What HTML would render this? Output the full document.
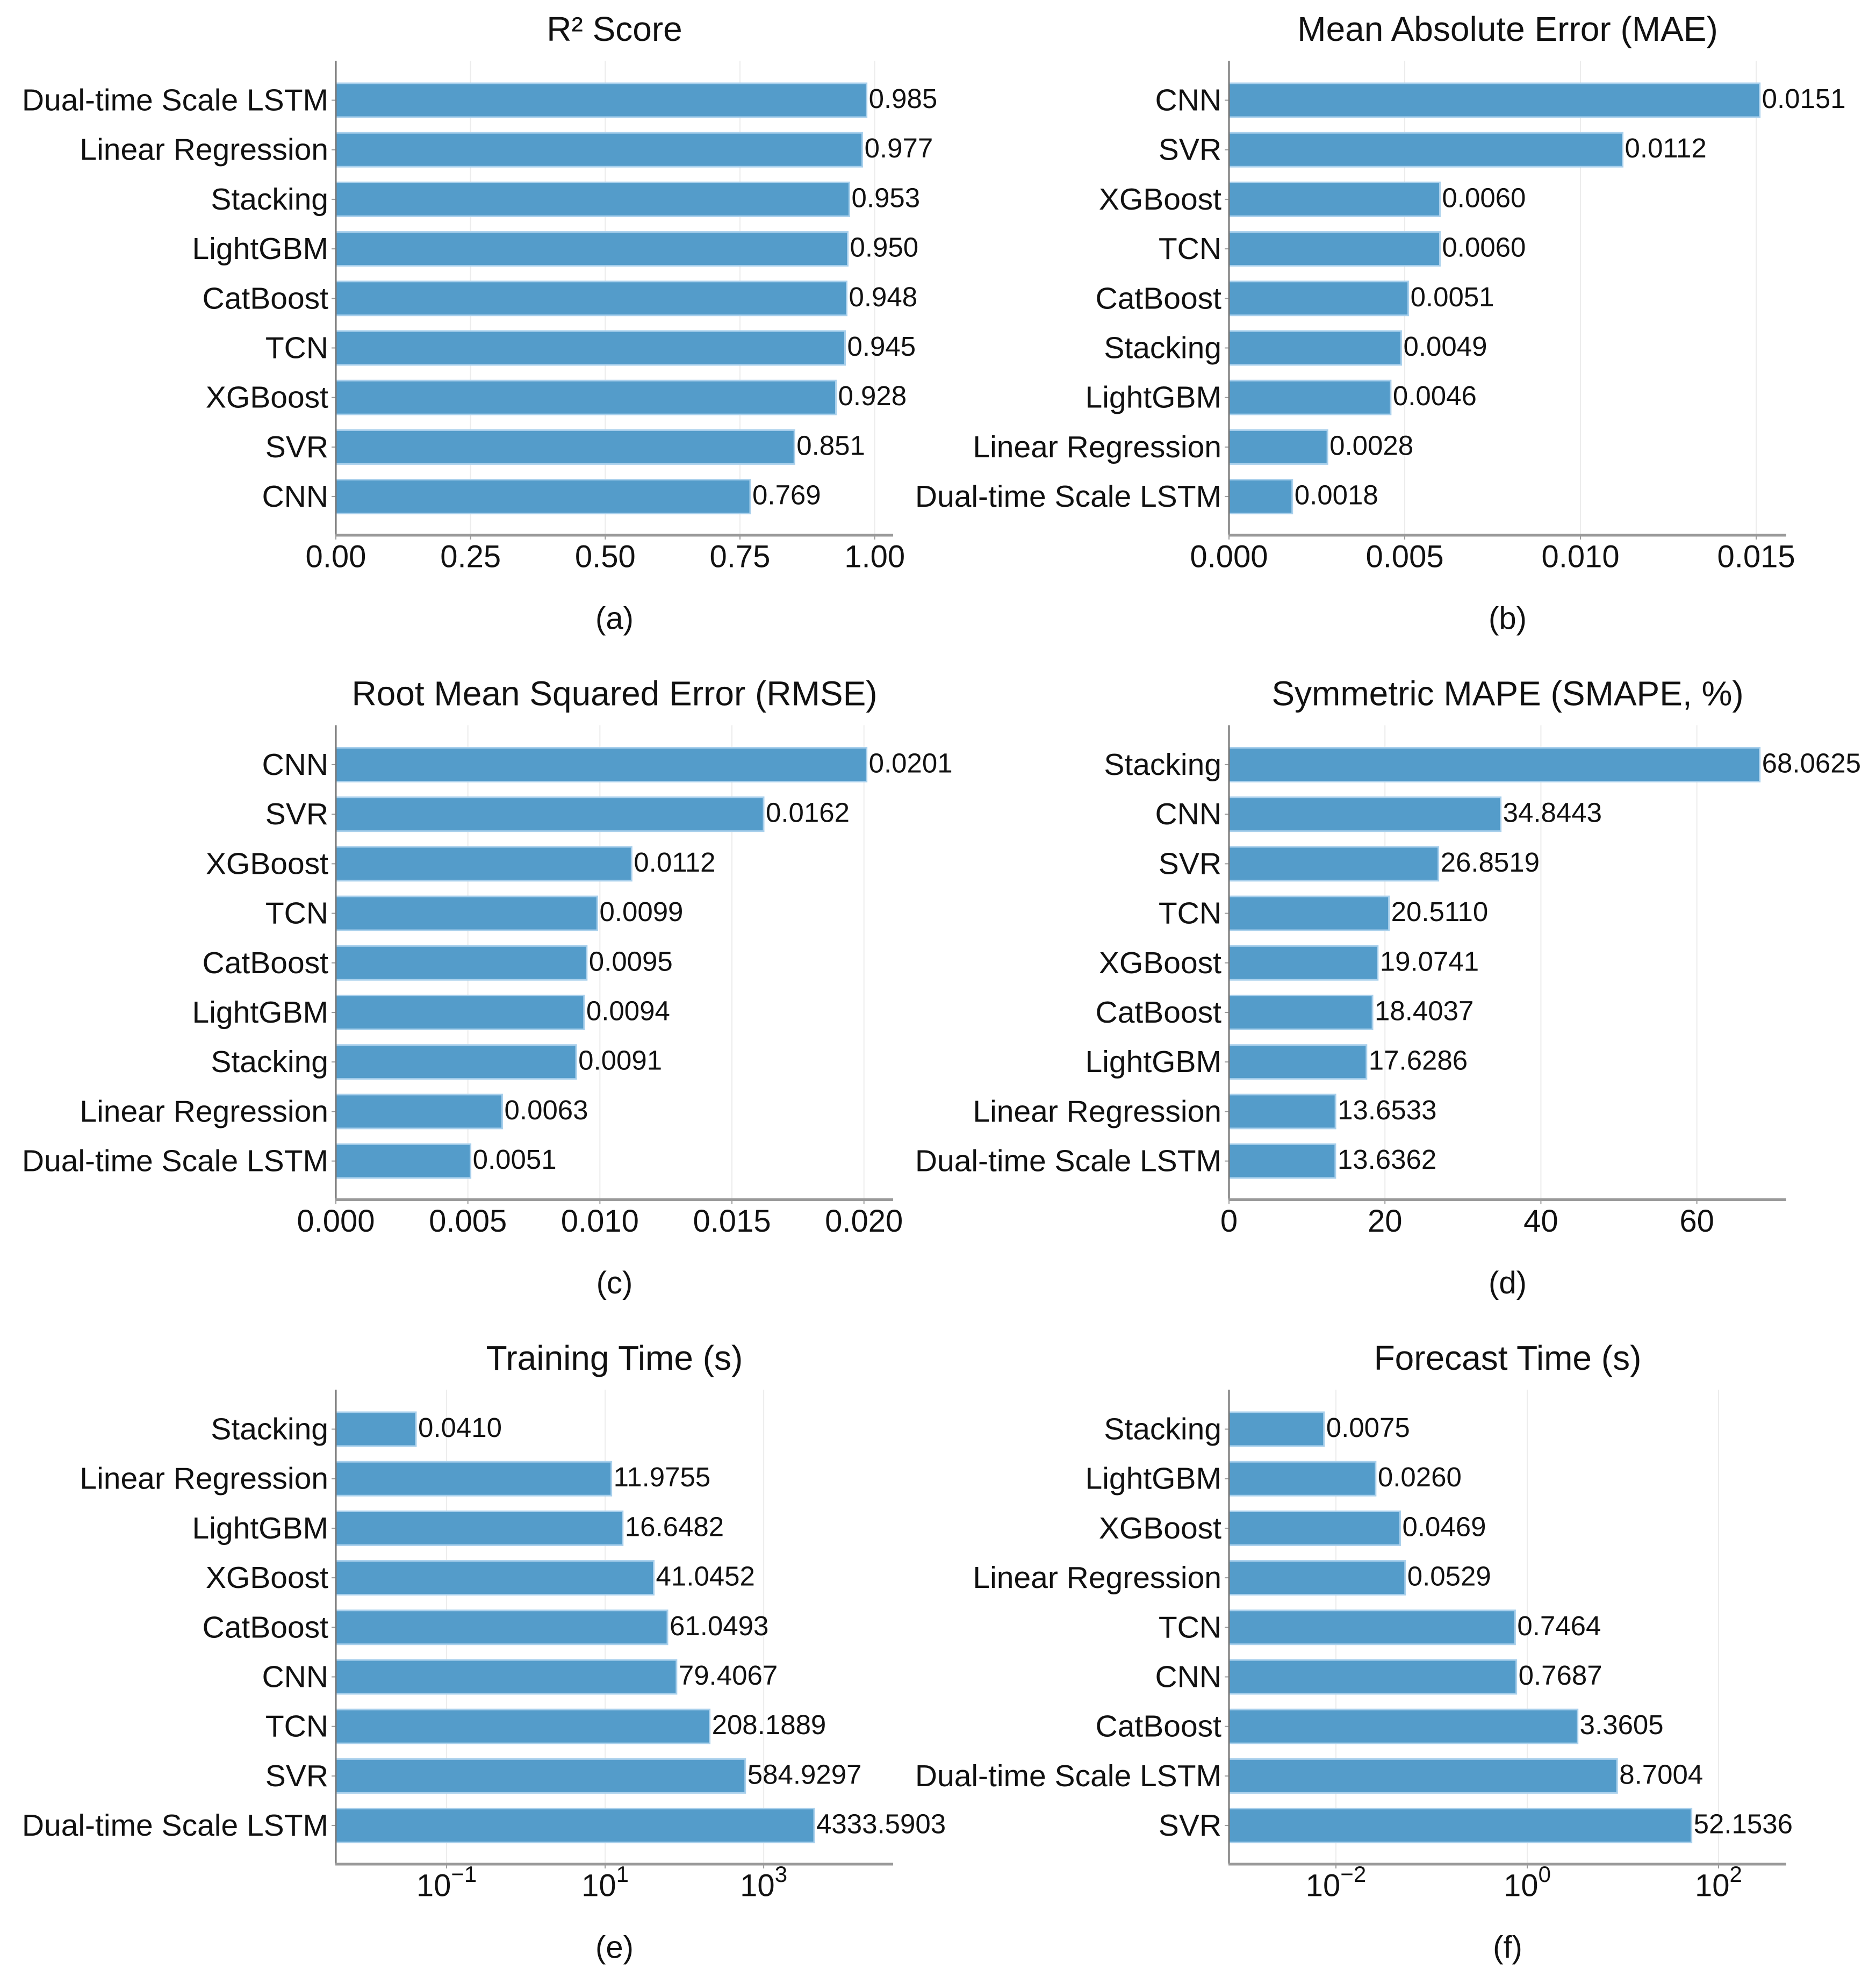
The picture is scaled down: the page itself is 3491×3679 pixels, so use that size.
<!DOCTYPE html>
<html><head><meta charset="utf-8"><style>
html,body{margin:0;padding:0;background:#fff}
svg{display:block}
text{font-family:"Liberation Sans",sans-serif;fill:#111}
</style></head><body>
<svg id="fig" xmlns="http://www.w3.org/2000/svg" width="3491" height="3679" viewBox="0 0 3491 3679"></svg>
<script>
// ---- data ----
const r2Cats = ["Dual-time Scale LSTM","Linear Regression","Stacking","LightGBM","CatBoost","TCN","XGBoost","SVR","CNN"];
const r2Vals = [0.985,0.977,0.953,0.950,0.948,0.945,0.928,0.851,0.769];
const r2Labels = ["0.985","0.977","0.953","0.950","0.948","0.945","0.928","0.851","0.769"];
const r2Ticks = [0,0.25,0.5,0.75,1.0];
const r2TickLabels = ["0.00","0.25","0.50","0.75","1.00"];

const maeCats = ["CNN","SVR","XGBoost","TCN","CatBoost","Stacking","LightGBM","Linear Regression","Dual-time Scale LSTM"];
const maeVals = [0.0151,0.0112,0.0060,0.0060,0.0051,0.0049,0.0046,0.0028,0.0018];
const maeLabels = ["0.0151","0.0112","0.0060","0.0060","0.0051","0.0049","0.0046","0.0028","0.0018"];
const maeTicks = [0,0.005,0.010,0.015];
const maeTickLabels = ["0.000","0.005","0.010","0.015"];

const rmseCats = ["CNN","SVR","XGBoost","TCN","CatBoost","LightGBM","Stacking","Linear Regression","Dual-time Scale LSTM"];
const rmseVals = [0.0201,0.0162,0.0112,0.0099,0.0095,0.0094,0.0091,0.0063,0.0051];
const rmseLabels = ["0.0201","0.0162","0.0112","0.0099","0.0095","0.0094","0.0091","0.0063","0.0051"];
const rmseTicks = [0,0.005,0.010,0.015,0.020];
const rmseTickLabels = ["0.000","0.005","0.010","0.015","0.020"];

const smapeCats = ["Stacking","CNN","SVR","TCN","XGBoost","CatBoost","LightGBM","Linear Regression","Dual-time Scale LSTM"];
const smapeVals = [68.0625,34.8443,26.8519,20.5110,19.0741,18.4037,17.6286,13.6533,13.6362];
const smapeLabels = ["68.0625","34.8443","26.8519","20.5110","19.0741","18.4037","17.6286","13.6533","13.6362"];
const smapeTicks = [0,20,40,60];
const smapeTickLabels = ["0","20","40","60"];

const trainCats = ["Stacking","Linear Regression","LightGBM","XGBoost","CatBoost","CNN","TCN","SVR","Dual-time Scale LSTM"];
const trainVals = [0.0410,11.9755,16.6482,41.0452,61.0493,79.4067,208.1889,584.9297,4333.5903];
const trainLabels = ["0.0410","11.9755","16.6482","41.0452","61.0493","79.4067","208.1889","584.9297","4333.5903"];
const trainTickExps = [-1,1,3];

const fcCats = ["Stacking","LightGBM","XGBoost","Linear Regression","TCN","CNN","CatBoost","Dual-time Scale LSTM","SVR"];
const fcVals = [0.0075,0.0260,0.0469,0.0529,0.7464,0.7687,3.3605,8.7004,52.1536];
const fcLabels = ["0.0075","0.0260","0.0469","0.0529","0.7464","0.7687","3.3605","8.7004","52.1536"];
const fcTickExps = [-2,0,2];

// ---- drawing ----
const svg = document.getElementById('fig');
const NS = 'http://www.w3.org/2000/svg';
function mk(tag, attrs, parent){
  const e = document.createElementNS(NS, tag);
  for (const k in attrs) e.setAttribute(k, attrs[k]);
  (parent||svg).appendChild(e);
  return e;
}
const AX_W = 1037, AX_TOP = 113, AX_BOT = 996, BAR0 = 186.5, PITCH = 92.2, BAR_H = 63;

function panel(opt){
  const g = mk('g', {});
  
  
  const x0 = opt.x0, dy = opt.dy;
  let xs;
  if (opt.log) {
    xs = v => x0 + (Math.log10(v) - opt.lmin) / (opt.lmax - opt.lmin) * AX_W;
  } else {
    const mx = Math.max(...opt.vals) * 1.05;
    xs = v => x0 + v / mx * AX_W;
  }
  const base = opt.log ? x0 : xs(0);
  const t = mk('text', {x: x0 + AX_W/2, y: dy + 54, 'font-size': 64, 'text-anchor': 'middle', 'dominant-baseline': 'central'}, g);
  t.innerHTML = opt.title;
  
  
  const ticks = opt.log ? opt.exps.map(e => Math.pow(10, e)) : opt.ticks;
  ticks.forEach((v, i) => {
    const x = xs(v);
    const gl = mk('line', {x1: x, x2: x, y1: dy + AX_TOP, y2: dy + AX_BOT, stroke: '#ececec', 'stroke-width': 2}, g);
    
    
    mk('line', {x1: x, x2: x, y1: dy + AX_BOT, y2: dy + AX_BOT + 8, stroke: '#999', 'stroke-width': 2}, g);
    const tl = mk('text', {x: x, y: dy + 1036, 'font-size': 58, 'text-anchor': 'middle', 'dominant-baseline': 'central'}, g);
    if (opt.log) {
      const e = opt.exps[i];
      tl.innerHTML = '10<tspan dy="-22" font-size="42">' + (e < 0 ? '\u2212' + (-e) : e) + '</tspan>';
    } else {
      tl.textContent = opt.tickLabels[i];
    }
    
    
  });
  opt.cats.forEach((c, i) => {
    const cy = dy + BAR0 + i * PITCH;
    const x1 = xs(opt.vals[i]);
    const b = mk('rect', {x: base, y: cy - BAR_H/2, width: Math.max(0, x1 - base), height: BAR_H, fill: '#549cca', stroke: '#a9d0ec', 'stroke-width': 3}, g);
    
    
    mk('line', {x1: x0 - 8, x2: x0, y1: cy, y2: cy, stroke: '#999', 'stroke-width': 2}, g);
    const cl = mk('text', {x: x0 - 14, y: cy, 'font-size': 57, 'text-anchor': 'end', 'dominant-baseline': 'central'}, g);
    cl.textContent = c;
    
    
    const vl = mk('text', {x: x1 + 4, y: cy - 3, 'font-size': 51, 'dominant-baseline': 'central'}, g);
    vl.textContent = opt.labels[i];
    
    
  });
  const ls = mk('line', {x1: x0, x2: x0, y1: dy + AX_TOP, y2: dy + AX_BOT, stroke: '#777', 'stroke-width': 3}, g);
  
  
  const bs = mk('line', {x1: x0 - 1, x2: x0 + AX_W, y1: dy + AX_BOT, y2: dy + AX_BOT, stroke: '#9a9a9a', 'stroke-width': 5}, g);
  
  
  const sl = mk('text', {x: x0 + AX_W/2, y: dy + 1151, 'font-size': 58, 'text-anchor': 'middle', 'dominant-baseline': 'central'}, g);
  sl.textContent = opt.sub;
  
  
}
const C1 = 625, C2 = 2287, R2 = 1236.5, R3 = 2473;
panel({name:'r2-chart', title:'R\u00B2 Score', sub:'(a)', x0:C1, dy:0, cats:r2Cats, vals:r2Vals, labels:r2Labels, ticks:r2Ticks, tickLabels:r2TickLabels});
panel({name:'mae-chart', title:'Mean Absolute Error (MAE)', sub:'(b)', x0:C2, dy:0, cats:maeCats, vals:maeVals, labels:maeLabels, ticks:maeTicks, tickLabels:maeTickLabels});
panel({name:'rmse-chart', title:'Root Mean Squared Error (RMSE)', sub:'(c)', x0:C1, dy:R2, cats:rmseCats, vals:rmseVals, labels:rmseLabels, ticks:rmseTicks, tickLabels:rmseTickLabels});
panel({name:'smape-chart', title:'Symmetric MAPE (SMAPE, %)', sub:'(d)', x0:C2, dy:R2, cats:smapeCats, vals:smapeVals, labels:smapeLabels, ticks:smapeTicks, tickLabels:smapeTickLabels});
panel({name:'training-time-chart', title:'Training Time (s)', sub:'(e)', x0:C1, dy:R3, cats:trainCats, vals:trainVals, labels:trainLabels, log:true, lmin:-2.397, lmax:4.633, exps:trainTickExps});
panel({name:'forecast-time-chart', title:'Forecast Time (s)', sub:'(f)', x0:C2, dy:R3, cats:fcCats, vals:fcVals, labels:fcLabels, log:true, lmin:-3.118, lmax:2.708, exps:fcTickExps});
</script>
</body></html>
